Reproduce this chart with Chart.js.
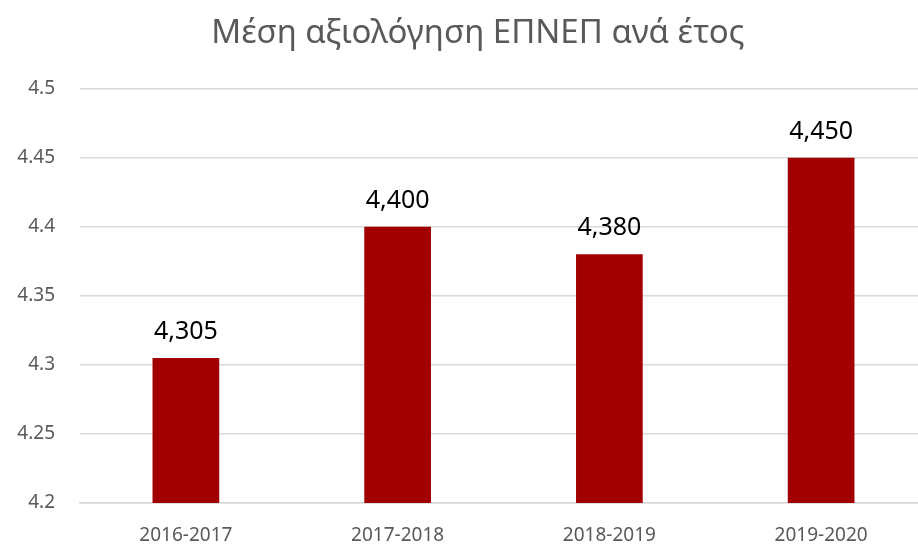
<!DOCTYPE html>
<html><head><meta charset="utf-8">
<script src="https://cdn.jsdelivr.net/npm/chart.js@4.4.1/dist/chart.umd.min.js"></script>
<style>
html,body{margin:0;padding:0;overflow:hidden;background:#fff;}
#wrap{width:956px;height:547px;position:relative;}
</style></head>
<body>
<div id="wrap"><canvas id="c" width="956" height="547"></canvas></div>
<script>
const categories = ["2016-2017", "2017-2018", "2018-2019", "2019-2020"];
const values = [4.305, 4.400, 4.380, 4.450];
const yTicks = [4.2, 4.25, 4.3, 4.35, 4.4, 4.45, 4.5];
const titleText = "Μέση αξιολόγηση ΕΠΝΕΠ ανά έτος";

const labelPlugin = {
  id: 'valueLabels',
  afterDatasetsDraw(chart) {
    const ctx = chart.ctx;
    const meta = chart.getDatasetMeta(0);
    ctx.save();
    ctx.font = '25px "Noto Sans", sans-serif';
    ctx.fillStyle = '#000';
    ctx.textAlign = 'center';
    ctx.textBaseline = 'alphabetic';
    meta.data.forEach((bar, i) => {
      const v = chart.data.datasets[0].data[i];
      ctx.fillText(v.toFixed(3).replace('.', ','), bar.x, bar.y - 19);
    });
    ctx.restore();
  }
};

new Chart(document.getElementById('c'), {
  type: 'bar',
  data: {
    labels: categories,
    datasets: [{
      data: values,
      backgroundColor: '#a20000',
      borderWidth: 0,
      barPercentage: 0.315,
      categoryPercentage: 1.0
    }]
  },
  options: {
    responsive: false,
    animation: false,
    layout: { padding: { left: 0, right: 0, top: 14, bottom: 0 } },
    plugins: {
      legend: { display: false },
      tooltip: { enabled: false },
      title: {
        display: true,
        text: titleText,
        color: '#595959',
        font: { family: '"Noto Sans", sans-serif', size: 33, weight: 'normal' },
        padding: { top: 0, bottom: 35 }
      }
    },
    scales: {
      x: {
        afterFit(axis) { axis.height = 44; },
        grid: { display: false, drawTicks: false },
        border: { display: true, color: '#d9d9d9', width: 1.5 },
        ticks: { color: '#595959', font: { family: '"Noto Sans", sans-serif', size: 19 }, padding: 21 }
      },
      y: {
        min: 4.2, max: 4.5,
        afterFit(axis) { axis.width = 80; },
        afterBuildTicks(axis) { axis.ticks = yTicks.map(v => ({ value: v })); },
        grid: { color: '#d9d9d9', lineWidth: 1.5, drawTicks: false },
        border: { display: false },
        ticks: {
          color: '#595959',
          font: { family: '"Noto Sans", sans-serif', size: 19 },
          padding: 25,
          callback: v => String(Math.round(v * 100) / 100)
        }
      },
      yRight: {
        type: 'linear',
        position: 'right',
        min: 4.2, max: 4.5,
        afterFit(axis) { axis.width = 29; },
        grid: { display: false, drawTicks: false },
        border: { display: false },
        ticks: { display: false }
      }
    }
  },
  plugins: [labelPlugin]
});
</script>
</body></html>
